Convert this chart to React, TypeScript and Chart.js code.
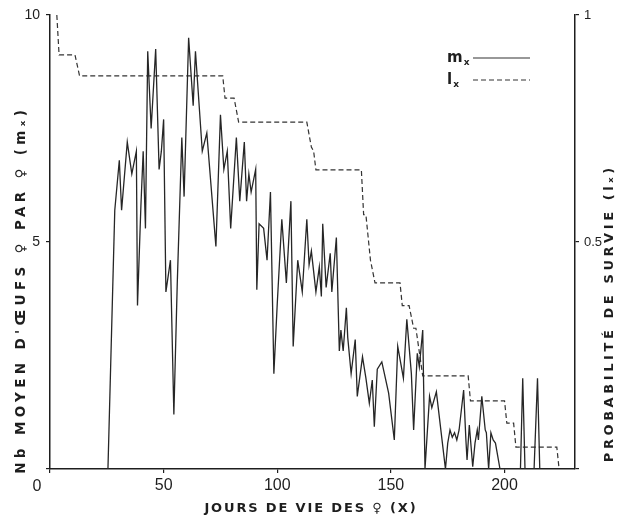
import { useEffect, useRef } from "react";
import { Chart, registerables } from "chart.js";

Chart.register(...registerables);

// ---- data ----
const mxDays = [
  25.5, 28.5, 30.5, 31.5, 34, 36, 38, 38.5, 40, 41, 42, 43, 44.5, 46.5, 48, 49, 50, 51, 53, 54.5,
  56, 58, 59, 61, 63, 64, 67, 69, 73, 75, 76.5, 78, 79.5, 82, 83.5, 85.5, 86.5, 87.5, 88.5, 90.5,
  91, 92, 94, 95.5, 97, 98.5, 100, 102, 104, 106, 107, 109, 111, 113, 114, 115, 117, 118.5, 119.4, 120,
  121.5, 123.3, 124, 126, 127.3, 128, 129, 130.4, 131, 132.5, 134.3, 135.2, 137.5, 139, 140.5, 141.8, 142.7, 144,
  146, 149, 151.5, 153, 155.5, 157, 159, 160, 161.6, 162.5, 164, 165, 167, 168, 170, 174, 175, 176,
  177, 178, 179, 180, 182, 183, 183.5, 184.5, 186, 187, 188, 188.5, 190, 191.5, 192, 193, 194, 195,
  196, 198, 207, 208, 209, 213, 214.5, 215.5,
];
const mxValues = [
  0, 5.7, 6.8, 5.7, 7.2, 6.5, 7.0, 3.6, 5.8, 7.0, 5.3, 9.2, 7.5, 9.25, 6.6, 7.0, 7.7, 3.9, 4.6, 1.2,
  4.1, 7.3, 6.0, 9.5, 8.0, 9.2, 7.0, 7.4, 4.9, 7.8, 6.6, 7.0, 5.3, 7.3, 5.9, 7.2, 5.9, 6.5, 6.1, 6.6,
  3.95, 5.4, 5.3, 4.6, 6.1, 2.1, 3.65, 5.5, 4.1, 5.9, 2.7, 4.6, 3.9, 5.5, 4.5, 4.8, 3.9, 4.45, 3.8, 5.4,
  4.0, 4.75, 3.9, 5.1, 2.6, 3.06, 2.6, 3.55, 2.9, 2.1, 2.85, 1.6, 2.47, 2.0, 1.45, 1.96, 0.93, 2.2,
  2.36, 1.67, 0.64, 2.7, 2.0, 3.3, 2.1, 0.86, 2.55, 2.25, 3.06, 0, 1.6, 1.35, 1.7, 0, 0.57, 0.86,
  0.7, 0.8, 0.64, 0.86, 1.74, 0.64, 0.2, 0.97, 0.05, 0.57, 0.86, 0.64, 1.6, 0.86, 0.8, 0, 0.8, 0.64,
  0.57, 0, 0, 2.0, 0, 0, 2.0, 0,
];

const lxDays = [
  3, 4, 11, 13, 76, 77, 81, 83, 113, 115, 116, 117, 137, 138, 139, 141, 143, 154, 155, 158,
  160, 161, 164, 184, 185, 200, 201, 204, 205, 223, 224,
];
const lxValues = [
  1.0, 0.912, 0.912, 0.866, 0.866, 0.817, 0.817, 0.764, 0.764, 0.709, 0.7, 0.659, 0.659, 0.56, 0.56, 0.46, 0.41, 0.41, 0.36, 0.36,
  0.31, 0.31, 0.205, 0.205, 0.15, 0.15, 0.101, 0.101, 0.048, 0.048, 0,
];

const xTicks = [0, 50, 100, 150, 200];
const leftTicks = [0, 5, 10];
const rightTicks = [0, 0.5, 1];
const xMax = 231;

const xTitle = "JOURS DE VIE DES ♀ (X)";
const leftTitle = "Nb MOYEN D'ŒUFS ♀ PAR ♀ (mₓ)";
const rightTitle = "PROBABILITÉ DE SURVIE (lₓ)";
const legendLabels = ["m", "l"];
const originLabel = "0";

const INK = "#1e1e1e";
const NARROW = "'Liberation Sans Narrow', 'Liberation Sans', sans-serif";
const BOLD = "'DejaVu Sans', 'Liberation Sans', sans-serif";

function spacedText(ctx: CanvasRenderingContext2D, text: string, x: number, y: number, target: number) {
  (ctx as any).letterSpacing = "0px";
  const w0 = ctx.measureText(text).width;
  const n = [...text].length;
  const sp = Math.max(0, (target - w0) / n);
  (ctx as any).letterSpacing = sp + "px";
  ctx.fillText(text, x + sp / 2, y);
  (ctx as any).letterSpacing = "0px";
}

const annotations = {
  id: "annotations",
  afterDraw(chart: any) {
    const ctx: CanvasRenderingContext2D = chart.ctx;
    const ca = chart.chartArea;
    ctx.save();
    ctx.fillStyle = INK;
    ctx.textAlign = "center";
    ctx.textBaseline = "middle";

    // x title
    ctx.font = `bold 13px ${BOLD}`;
    spacedText(ctx, xTitle, 310, ca.bottom + 40, 213);

    // left title
    ctx.font = `bold 13.5px ${BOLD}`;
    ctx.save();
    ctx.translate(21, 292);
    ctx.rotate(-Math.PI / 2);
    spacedText(ctx, leftTitle, 0, 0, 368);
    ctx.restore();

    // right title
    ctx.font = `bold 13px ${BOLD}`;
    ctx.save();
    ctx.translate(610, 315);
    ctx.rotate(-Math.PI / 2);
    spacedText(ctx, rightTitle, 0, 0, 298);
    ctx.restore();

    // origin label
    ctx.font = `16px ${NARROW}`;
    ctx.fillText(originLabel, 37, ca.bottom + 18);

    // legend
    const dashes = [[], [5, 3]];
    legendLabels.forEach((lab, i) => {
      const y = 58 + i * 22;
      ctx.textAlign = "left";
      ctx.textBaseline = "alphabetic";
      ctx.font = `bold 15px ${BOLD}`;
      ctx.fillText(lab, 447, y + 4);
      const w = ctx.measureText(lab).width;
      ctx.font = `bold 9px ${BOLD}`;
      ctx.fillText("x", 447 + w + 1, y + 7);
      ctx.beginPath();
      ctx.setLineDash(dashes[i]);
      ctx.strokeStyle = "#333";
      ctx.lineWidth = 1.2;
      ctx.moveTo(473, y);
      ctx.lineTo(530, y);
      ctx.stroke();
    });
    ctx.restore();
  },
};

export default function App() {
  const ref = useRef<HTMLCanvasElement | null>(null);
  useEffect(() => {
    document.body.style.margin = "0";
    const canvas = ref.current!;
    const grid = {
      display: true,
      drawOnChartArea: false,
      drawTicks: true,
      tickLength: 4,
      color: INK,
      lineWidth: 1.2,
    };
    const border = { display: true, color: INK, width: 1.5 };
    const chart = new Chart(canvas, {
      type: "line",
      data: {
        datasets: [
          {
            label: "mx",
            data: mxDays.map((d, i) => ({ x: d, y: mxValues[i] })),
            borderColor: "#262626",
            borderWidth: 1.3,
            pointRadius: 0,
            tension: 0,
            yAxisID: "y",
          },
          {
            label: "lx",
            data: lxDays.map((d, i) => ({ x: d, y: lxValues[i] })),
            borderColor: "#333",
            borderWidth: 1.2,
            borderDash: [5, 3],
            pointRadius: 0,
            tension: 0,
            yAxisID: "y2",
          },
        ],
      },
      options: {
        responsive: false,
        animation: false,
        layout: { padding: { top: 15, left: 0, right: 0, bottom: 0 } },
        plugins: { legend: { display: false }, tooltip: { enabled: false }, title: { display: false } },
        scales: {
          x: {
            type: "linear",
            min: 0,
            max: xMax,
            grid,
            border,
            afterBuildTicks: (s: any) => { s.ticks = xTicks.map((v) => ({ value: v })); },
            afterFit: (s: any) => { s.height = 50; },
            ticks: {
              color: INK,
              padding: 3,
              font: { family: NARROW, size: 16 },
              maxRotation: 0,
              callback: (v: any) => (v === 0 ? "" : String(v)),
            },
          },
          y: {
            type: "linear",
            position: "left",
            min: 0,
            max: 10,
            grid,
            border,
            afterBuildTicks: (s: any) => { s.ticks = leftTicks.map((v) => ({ value: v })); },
            afterFit: (s: any) => { s.width = 50; },
            ticks: {
              color: INK,
              padding: 6,
              font: { family: NARROW, size: 14 },
              callback: (v: any) => (v === 0 ? "" : String(v)),
            },
          },
          y2: {
            type: "linear",
            position: "right",
            min: 0,
            max: 1,
            grid,
            border,
            afterBuildTicks: (s: any) => { s.ticks = rightTicks.map((v) => ({ value: v })); },
            afterFit: (s: any) => { s.width = 48; },
            ticks: {
              color: INK,
              padding: 5,
              font: { family: NARROW, size: 13 },
              callback: (v: any) => (v === 0 ? "" : String(v)),
            },
          },
        },
      },
      plugins: [annotations],
    } as any);
    return () => chart.destroy();
  }, []);
  return <canvas ref={ref} width={623} height={519} style={{ display: "block" }} />;
}
